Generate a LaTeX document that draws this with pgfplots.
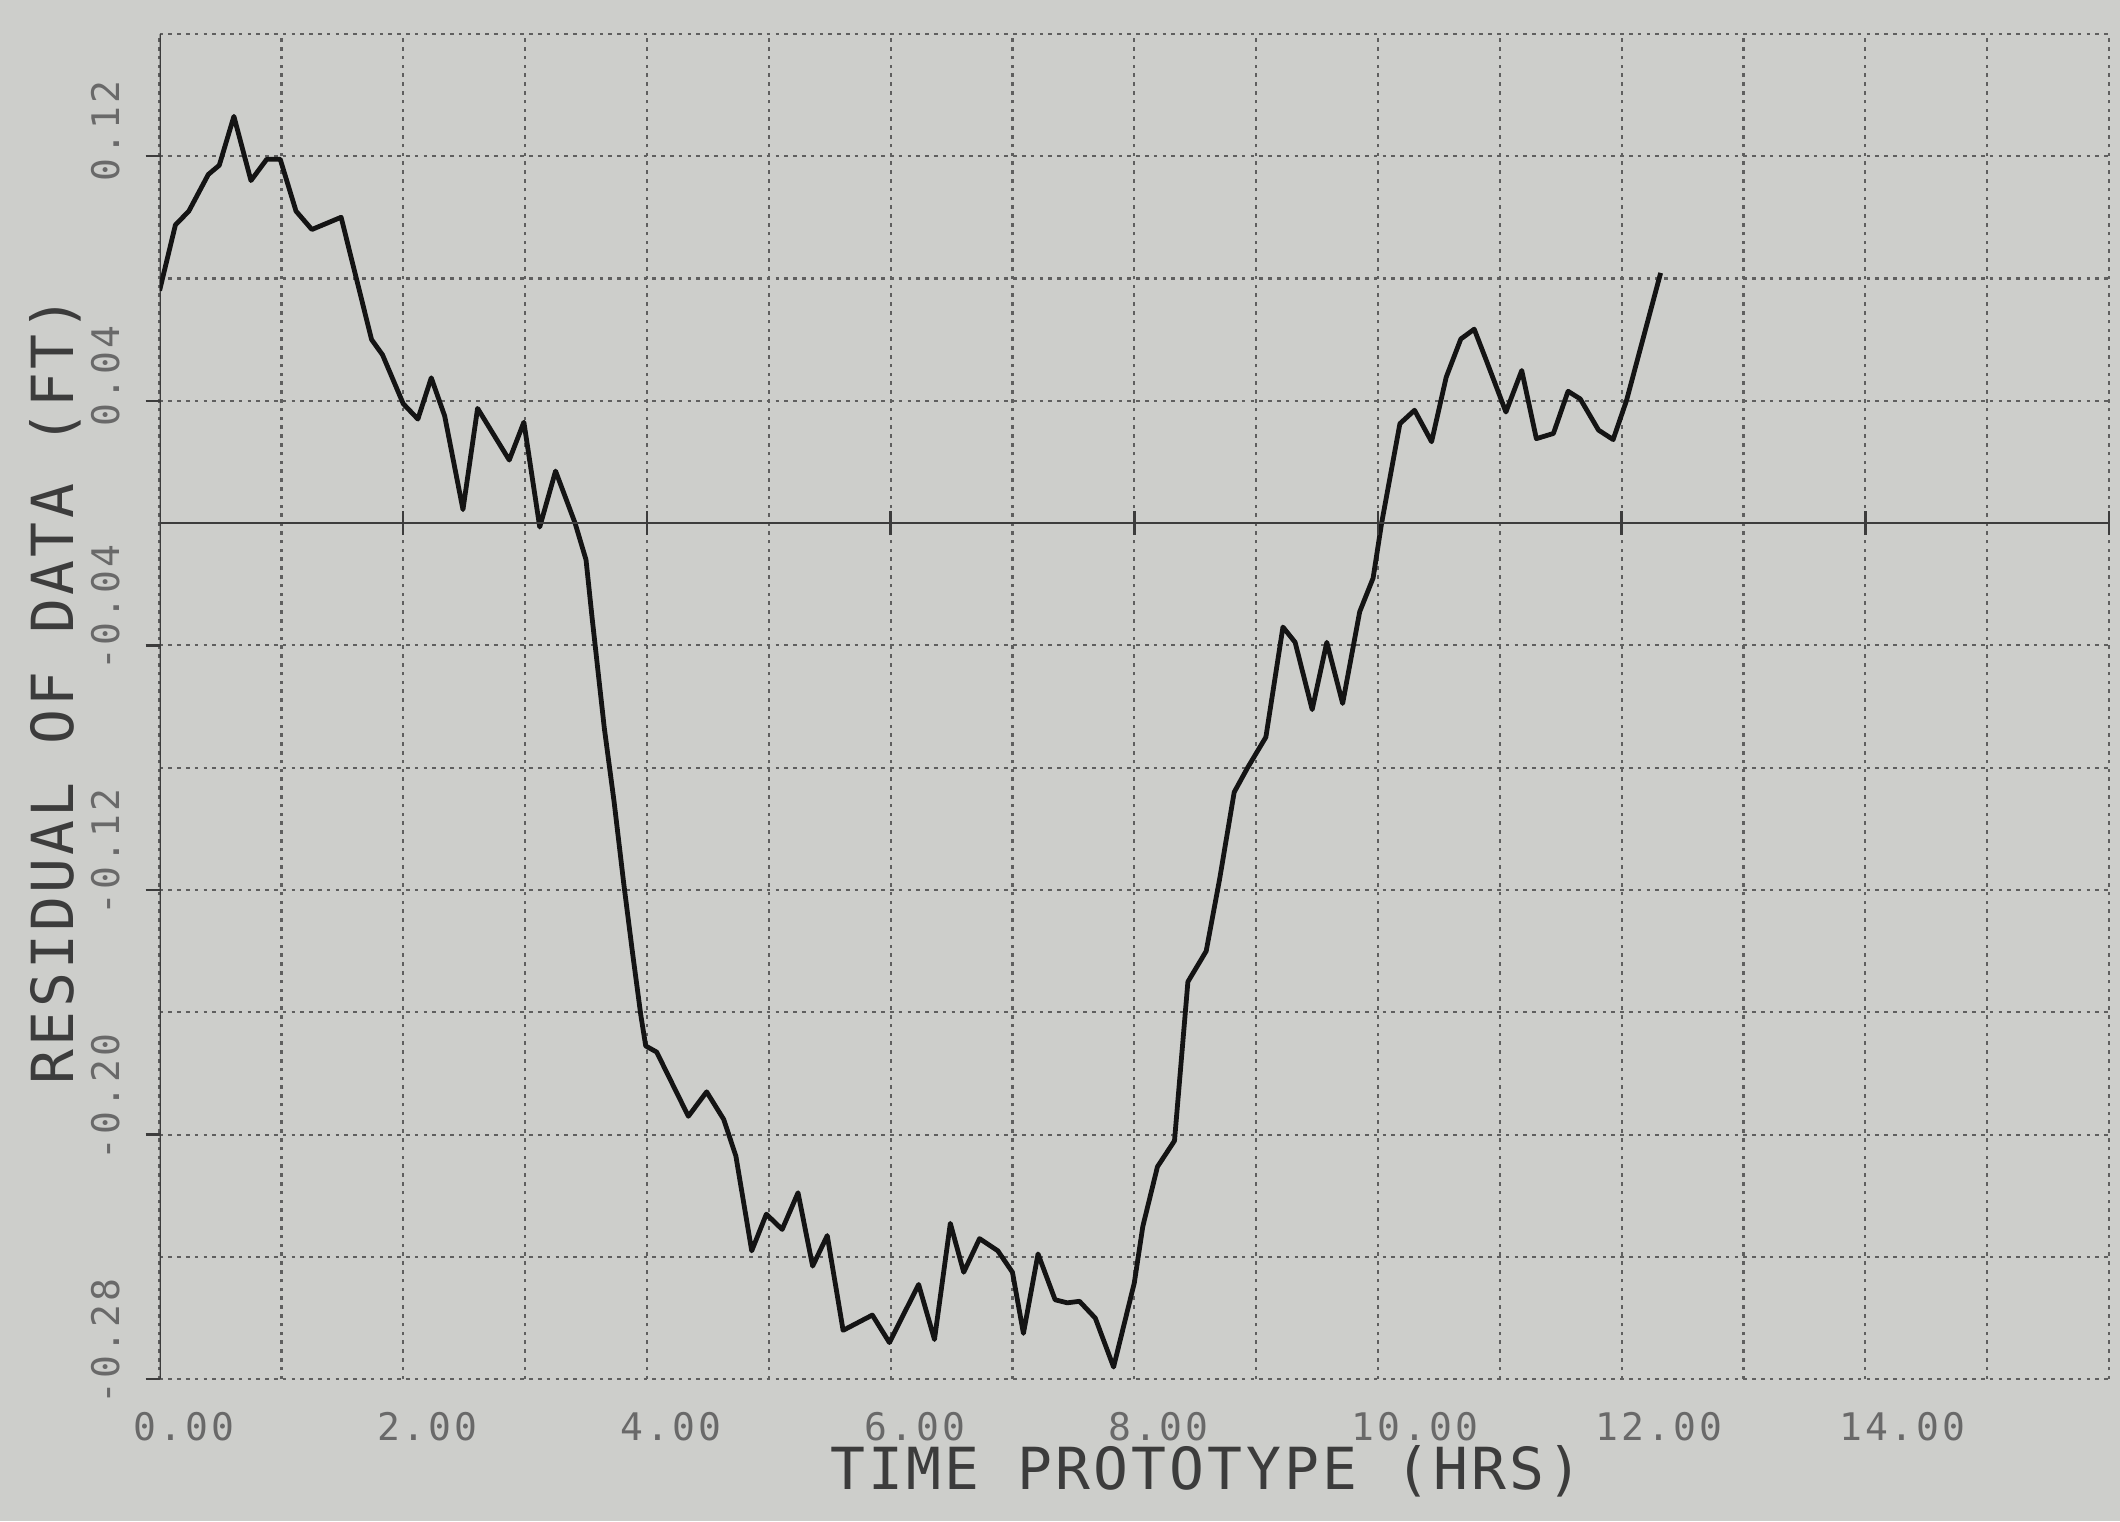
\documentclass[border=0pt]{standalone}
\usepackage{fontspec}
\usepackage{xcolor}
\usepackage{pgfplots}
\usepackage{pgfplotstable}
\pgfplotsset{compat=1.18}
\newfontfamily\tickfont[LetterSpace=8]{DejaVu Sans Mono}
\newfontfamily\titlefont[LetterSpace=5.5]{DejaVu Sans Mono}
\definecolor{bgc}{RGB}{205,206,203}
\definecolor{gridc}{RGB}{95,95,95}
\definecolor{tickc}{RGB}{105,105,105}
\definecolor{titlec}{RGB}{60,60,60}
\pagecolor{bgc}

\pgfplotstableread{
x y
0.00 0.076
0.13 0.0975
0.24 0.102
0.40 0.114
0.49 0.117
0.61 0.133
0.75 0.112
0.88 0.119
0.99 0.119
1.12 0.102
1.25 0.096
1.49 0.100
1.74 0.060
1.83 0.055
2.00 0.039
2.12 0.034
2.23 0.0475
2.34 0.035
2.49 0.0044
2.61 0.0375
2.87 0.0206
2.99 0.033
3.12 -0.0013
3.25 0.017
3.41 0.000
3.50 -0.012
3.55 -0.031
3.65 -0.067
3.73 -0.091
3.81 -0.118
3.88 -0.140
3.95 -0.161
3.99 -0.171
4.08 -0.173
4.34 -0.194
4.49 -0.186
4.63 -0.195
4.73 -0.207
4.86 -0.238
4.98 -0.226
5.11 -0.231
5.24 -0.219
5.36 -0.243
5.48 -0.233
5.61 -0.264
5.85 -0.259
5.99 -0.268
6.23 -0.249
6.36 -0.267
6.49 -0.229
6.60 -0.245
6.73 -0.234
6.88 -0.238
7.00 -0.245
7.09 -0.265
7.21 -0.239
7.35 -0.254
7.45 -0.255
7.55 -0.2545
7.68 -0.260
7.83 -0.276
8.00 -0.2485
8.07 -0.230
8.19 -0.2105
8.33 -0.202
8.44 -0.150
8.59 -0.140
8.70 -0.1165
8.82 -0.088
8.93 -0.080
9.08 -0.070
9.22 -0.034
9.32 -0.039
9.46 -0.061
9.58 -0.039
9.71 -0.059
9.85 -0.029
9.96 -0.018
10.03 0.000
10.18 0.0325
10.30 0.0369
10.44 0.0266
10.56 0.0477
10.68 0.0602
10.79 0.0634
10.89 0.0531
11.05 0.0363
11.18 0.0499
11.30 0.0276
11.44 0.0293
11.56 0.0431
11.66 0.0406
11.81 0.0304
11.93 0.0273
12.04 0.0401
12.32 0.0818
}\resid

\begin{document}
\begin{tikzpicture}
\pgfplotsset{
  common/.style={
    scale only axis,
    width=487.4pt, height=336.4pt,
    xmin=0, xmax=16, ymin=-0.28, ymax=0.16,
  }
}
\begin{axis}[
  common,
  name=main,
  axis line style={draw=none},
  grid=both,
  major grid style={gridc, line width=0.55pt, dash pattern=on 0.9pt off 1.3pt},
  minor grid style={gridc, line width=0.55pt, dash pattern=on 0.9pt off 1.3pt},
  xtick={0,2,...,16},
  minor xtick={1,3,...,15},
  xticklabels={0.00,2.00,4.00,6.00,8.00,10.00,12.00,14.00,{}},
  xtick style={draw=none},
  ytick={-0.28,-0.20,-0.12,-0.04,0.04,0.12},
  yticklabels={-0.28,-0.20,-0.12,-0.04,0.04,0.12},
  minor ytick={-0.24,-0.16,-0.08,0,0.08,0.16},
  minor tick style={draw=none},
  ytick style={titlec, line width=0.6pt},
  tick align=outside,
  major tick length=3.5pt,
  ytick pos=left,
  xticklabel style={font=\tickfont\fontsize{9.5}{11}\selectfont, text=tickc, inner sep=0pt, anchor=west, xshift=-6.75pt, yshift=-8.4pt},
  yticklabel style={font=\tickfont\fontsize{9.5}{11}\selectfont, text=tickc, inner sep=0pt, xshift=-6.3pt, yshift=-6.6pt, anchor=south west, rotate=90},
  xlabel={TIME PROTOTYPE (HRS)},
  ylabel={RESIDUAL OF DATA (FT)},
  every axis x label/.style={at={(axis description cs:0.537,-0.0684)}, anchor=center, font=\titlefont\fontsize{14.5}{17}\selectfont, text=titlec},
  every axis y label/.style={at={(axis description cs:-0.0534,0.512)}, anchor=center, rotate=90, font=\titlefont\fontsize{14.5}{17}\selectfont, text=titlec},
]
\addplot[titlec, line width=0.6pt] coordinates {(0,-0.28) (0,0.16)};
\addplot[black!92, line width=1.2pt, line join=round] table[x=x, y=y] {\resid};
\end{axis}
\begin{axis}[
  common,
  axis x line=middle,
  axis y line=none,
  x axis line style={-, titlec, line width=0.5pt},
  xtick={2,4,...,16},
  xticklabels={},
  ytick=\empty,
  tick align=center,
  major tick length=6pt,
  xtick style={titlec, line width=0.6pt},
]
\end{axis}
\pgfresetboundingbox
\path (main.south west) ++(-39.9pt,-35.5pt) rectangle ([xshift=2.75pt, yshift=8.45pt]main.north east);
\end{tikzpicture}
\end{document}
